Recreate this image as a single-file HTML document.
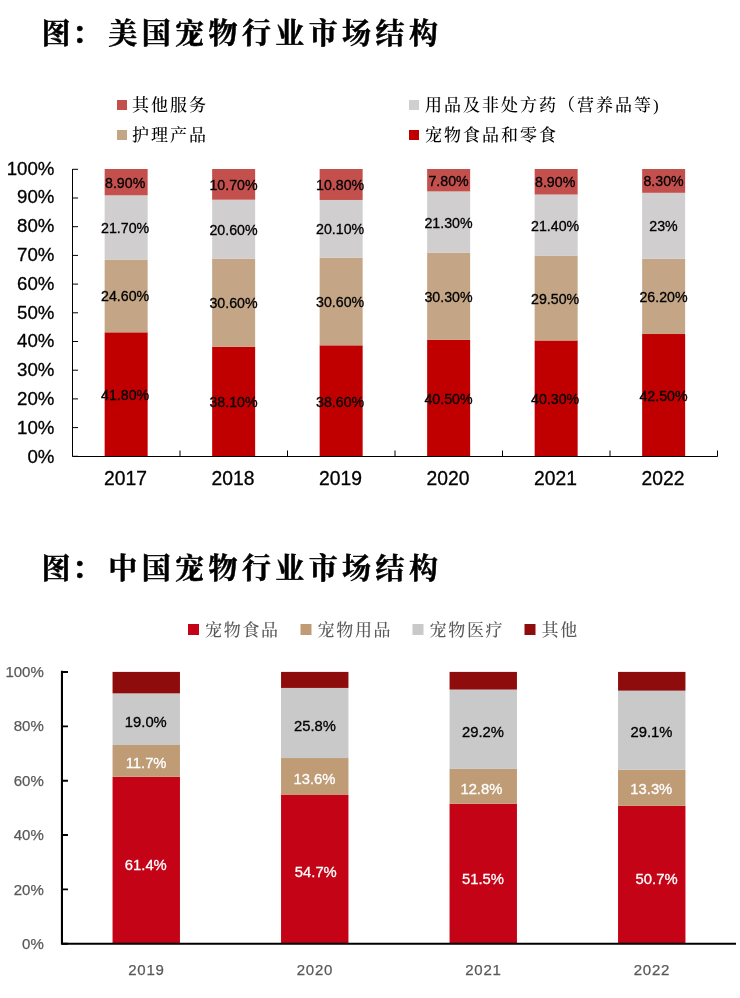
<!DOCTYPE html>
<html lang="zh"><head><meta charset="utf-8"><title>宠物行业市场结构</title>
<style>
html,body{margin:0;padding:0;background:#fff;}
body{width:740px;height:998px;overflow:hidden;position:relative;}
svg{display:block;position:absolute;left:0;top:0;}
.title{font-family:"Liberation Serif","Noto Serif CJK SC",serif;font-weight:700;font-size:29px;letter-spacing:4.4px;fill:#000;stroke:#000;stroke-width:0.5px;}
.lg1{font-family:"Liberation Serif","Noto Serif CJK SC",serif;font-weight:500;font-size:17px;letter-spacing:2px;fill:#000;}
.lg2{font-family:"Liberation Serif","Noto Serif CJK SC",serif;font-weight:500;font-size:17px;letter-spacing:1.7px;fill:#595959;}
.ax1{font-family:"Liberation Sans",sans-serif;font-size:18.67px;fill:#000;stroke:#000;stroke-width:0.3px;}
.xl1{font-family:"Liberation Sans",sans-serif;font-size:19.3px;fill:#000;stroke:#000;stroke-width:0.3px;}
.dl1{font-family:"Liberation Sans",sans-serif;font-size:14.2px;fill:#000;stroke:#000;stroke-width:0.3px;}
.ax2{font-family:"Liberation Sans",sans-serif;font-size:15px;fill:#595959;stroke:#595959;stroke-width:0.25px;}
.dl2{font-family:"Liberation Sans",sans-serif;font-size:14.8px;stroke-width:0.3px;}
</style></head><body>
<svg width="740" height="998" viewBox="0 0 740 998">
<rect x="0" y="0" width="740" height="998" fill="#fff"/>
<text class="title" x="41.5" y="44">图<tspan dx="-3">：</tspan><tspan dx="3">美国宠物行业市场结构</tspan></text>
<text class="title" x="41.5" y="579.2">图<tspan dx="-3">：</tspan><tspan dx="3">中国宠物行业市场结构</tspan></text>
<rect x="117" y="100" width="10" height="10" fill="#C4504E"/>
<text class="lg1" x="132" y="111">其他服务</text>
<rect x="117" y="130" width="10" height="10" fill="#C4A686"/>
<text class="lg1" x="132" y="141">护理产品</text>
<rect x="409" y="100" width="10" height="10" fill="#D0CECE"/>
<text class="lg1" x="425" y="111">用品及非处方药（营养品等)</text>
<rect x="409" y="130" width="10" height="10" fill="#C00000"/>
<text class="lg1" x="425" y="141">宠物食品和零食</text>
<rect x="104.65" y="332.32" width="43" height="123.68" fill="#C00000"/>
<text class="dl1" text-anchor="middle" x="125.15" y="400.26">41.80%</text>
<rect x="104.65" y="259.54" width="43" height="72.79" fill="#C4A686"/>
<text class="dl1" text-anchor="middle" x="125.15" y="301.43">24.60%</text>
<rect x="104.65" y="195.33" width="43" height="64.21" fill="#D0CECE"/>
<text class="dl1" text-anchor="middle" x="125.15" y="232.94">21.70%</text>
<rect x="104.65" y="169" width="43" height="26.33" fill="#C4504E"/>
<text class="dl1" text-anchor="middle" x="125.15" y="187.67">8.90%</text>
<text class="xl1" text-anchor="middle" x="125.45" y="485.1">2017</text>
<rect x="212.15" y="346.65" width="43" height="109.35" fill="#C00000"/>
<text class="dl1" text-anchor="middle" x="233.55" y="407.43">38.10%</text>
<rect x="212.15" y="258.83" width="43" height="87.82" fill="#C4A686"/>
<text class="dl1" text-anchor="middle" x="233.55" y="308.24">30.60%</text>
<rect x="212.15" y="199.71" width="43" height="59.12" fill="#D0CECE"/>
<text class="dl1" text-anchor="middle" x="233.55" y="234.77">20.60%</text>
<rect x="212.15" y="169" width="43" height="30.71" fill="#C4504E"/>
<text class="dl1" text-anchor="middle" x="233.55" y="189.85">10.70%</text>
<text class="xl1" text-anchor="middle" x="232.95" y="485.1">2018</text>
<rect x="319.65" y="345.33" width="43" height="110.67" fill="#C00000"/>
<text class="dl1" text-anchor="middle" x="340.15" y="406.76">38.60%</text>
<rect x="319.65" y="257.59" width="43" height="87.73" fill="#C4A686"/>
<text class="dl1" text-anchor="middle" x="340.15" y="306.96">30.60%</text>
<rect x="319.65" y="199.97" width="43" height="57.63" fill="#D0CECE"/>
<text class="dl1" text-anchor="middle" x="340.15" y="234.28">20.10%</text>
<rect x="319.65" y="169" width="43" height="30.97" fill="#C4504E"/>
<text class="dl1" text-anchor="middle" x="340.15" y="189.98">10.80%</text>
<text class="xl1" text-anchor="middle" x="340.45" y="485.1">2019</text>
<rect x="427.15" y="339.65" width="43" height="116.35" fill="#C00000"/>
<text class="dl1" text-anchor="middle" x="448.55" y="403.92">40.50%</text>
<rect x="427.15" y="252.6" width="43" height="87.05" fill="#C4A686"/>
<text class="dl1" text-anchor="middle" x="448.55" y="301.62">30.30%</text>
<rect x="427.15" y="191.41" width="43" height="61.19" fill="#D0CECE"/>
<text class="dl1" text-anchor="middle" x="448.55" y="227.5">21.30%</text>
<rect x="427.15" y="169" width="43" height="22.41" fill="#C4504E"/>
<text class="dl1" text-anchor="middle" x="448.55" y="185.7">7.80%</text>
<text class="xl1" text-anchor="middle" x="447.95" y="485.1">2020</text>
<rect x="534.65" y="340.45" width="43" height="115.55" fill="#C00000"/>
<text class="dl1" text-anchor="middle" x="555.15" y="404.33">40.30%</text>
<rect x="534.65" y="255.87" width="43" height="84.58" fill="#C4A686"/>
<text class="dl1" text-anchor="middle" x="555.15" y="303.66">29.50%</text>
<rect x="534.65" y="194.52" width="43" height="61.36" fill="#D0CECE"/>
<text class="dl1" text-anchor="middle" x="555.15" y="230.7">21.40%</text>
<rect x="534.65" y="169" width="43" height="25.52" fill="#C4504E"/>
<text class="dl1" text-anchor="middle" x="555.15" y="187.26">8.90%</text>
<text class="xl1" text-anchor="middle" x="555.45" y="485.1">2021</text>
<rect x="642.15" y="334.02" width="43" height="121.98" fill="#C00000"/>
<text class="dl1" text-anchor="middle" x="663.55" y="401.11">42.50%</text>
<rect x="642.15" y="258.83" width="43" height="75.19" fill="#C4A686"/>
<text class="dl1" text-anchor="middle" x="663.55" y="301.93">26.20%</text>
<rect x="642.15" y="192.82" width="43" height="66.01" fill="#D0CECE"/>
<text class="dl1" text-anchor="middle" x="663.55" y="231.33">23%</text>
<rect x="642.15" y="169" width="43" height="23.82" fill="#C4504E"/>
<text class="dl1" text-anchor="middle" x="663.55" y="186.41">8.30%</text>
<text class="xl1" text-anchor="middle" x="662.95" y="485.1">2022</text>
<path d="M72.5 169 V456.5 H717.5" fill="none" stroke="#000" stroke-width="1"/>
<path d="M72.5 456.3h5.5M72.5 427.6h5.5M72.5 398.9h5.5M72.5 370.2h5.5M72.5 341.5h5.5M72.5 312.8h5.5M72.5 284.1h5.5M72.5 255.4h5.5M72.5 226.7h5.5M72.5 198h5.5M72.5 169.3h5.5M180 456.5v-6M287.5 456.5v-6M395 456.5v-6M502.5 456.5v-6M610 456.5v-6M717.5 456.5v-6" fill="none" stroke="#000" stroke-width="1"/>
<text class="ax1" text-anchor="end" x="54.4" y="462.5">0%</text>
<text class="ax1" text-anchor="end" x="54.4" y="433.7">10%</text>
<text class="ax1" text-anchor="end" x="54.4" y="404.9">20%</text>
<text class="ax1" text-anchor="end" x="54.4" y="376.1">30%</text>
<text class="ax1" text-anchor="end" x="54.4" y="347.3">40%</text>
<text class="ax1" text-anchor="end" x="54.4" y="318.5">50%</text>
<text class="ax1" text-anchor="end" x="54.4" y="289.7">60%</text>
<text class="ax1" text-anchor="end" x="54.4" y="260.9">70%</text>
<text class="ax1" text-anchor="end" x="54.4" y="232.1">80%</text>
<text class="ax1" text-anchor="end" x="54.4" y="203.3">90%</text>
<text class="ax1" text-anchor="end" x="54.4" y="174.5">100%</text>
<rect x="188" y="624" width="11" height="11" fill="#C40316"/>
<text class="lg2" x="205" y="636">宠物食品</text>
<rect x="300.5" y="624" width="11" height="11" fill="#BF9C76"/>
<text class="lg2" x="317.5" y="636">宠物用品</text>
<rect x="412.5" y="624" width="11" height="11" fill="#C9C9C9"/>
<text class="lg2" x="429.5" y="636">宠物医疗</text>
<rect x="524.5" y="624" width="11" height="11" fill="#8E0C0C"/>
<text class="lg2" x="541.5" y="636">其他</text>
<rect x="112.55" y="776.78" width="67.4" height="166.82" fill="#C40316"/>
<text class="dl2" text-anchor="middle" fill="#fff" stroke="#fff" x="145.8" y="869.7">61.4%</text>
<rect x="112.55" y="744.99" width="67.4" height="31.79" fill="#BF9C76"/>
<text class="dl2" text-anchor="middle" fill="#fff" stroke="#fff" x="146.1" y="768.1">11.7%</text>
<rect x="112.55" y="693.36" width="67.4" height="51.62" fill="#C9C9C9"/>
<text class="dl2" text-anchor="middle" fill="#000" stroke="#000" x="145.8" y="727">19.0%</text>
<rect x="112.55" y="671.9" width="67.4" height="21.46" fill="#8E0C0C"/>
<text class="ax2" text-anchor="middle" style="letter-spacing:0.8px" x="146.45" y="974.6">2019</text>
<rect x="281.05" y="794.98" width="67.4" height="148.62" fill="#C40316"/>
<text class="dl2" text-anchor="middle" fill="#fff" stroke="#fff" x="315.8" y="876.9">54.7%</text>
<rect x="281.05" y="758.03" width="67.4" height="36.95" fill="#BF9C76"/>
<text class="dl2" text-anchor="middle" fill="#fff" stroke="#fff" x="314.5" y="783.7">13.6%</text>
<rect x="281.05" y="687.93" width="67.4" height="70.1" fill="#C9C9C9"/>
<text class="dl2" text-anchor="middle" fill="#000" stroke="#000" x="315" y="730.6">25.8%</text>
<rect x="281.05" y="671.9" width="67.4" height="16.03" fill="#8E0C0C"/>
<text class="ax2" text-anchor="middle" style="letter-spacing:0.8px" x="314.95" y="974.6">2020</text>
<rect x="449.55" y="803.67" width="67.4" height="139.93" fill="#C40316"/>
<text class="dl2" text-anchor="middle" fill="#fff" stroke="#fff" x="483" y="883.7">51.5%</text>
<rect x="449.55" y="768.9" width="67.4" height="34.78" fill="#BF9C76"/>
<text class="dl2" text-anchor="middle" fill="#fff" stroke="#fff" x="481.4" y="793.5">12.8%</text>
<rect x="449.55" y="689.56" width="67.4" height="79.34" fill="#C9C9C9"/>
<text class="dl2" text-anchor="middle" fill="#000" stroke="#000" x="483" y="736.6">29.2%</text>
<rect x="449.55" y="671.9" width="67.4" height="17.66" fill="#8E0C0C"/>
<text class="ax2" text-anchor="middle" style="letter-spacing:0.8px" x="483.45" y="974.6">2021</text>
<rect x="618.05" y="805.85" width="67.4" height="137.75" fill="#C40316"/>
<text class="dl2" text-anchor="middle" fill="#fff" stroke="#fff" x="656.6" y="884.3">50.7%</text>
<rect x="618.05" y="769.71" width="67.4" height="36.14" fill="#BF9C76"/>
<text class="dl2" text-anchor="middle" fill="#fff" stroke="#fff" x="651.3" y="794.1">13.3%</text>
<rect x="618.05" y="690.65" width="67.4" height="79.06" fill="#C9C9C9"/>
<text class="dl2" text-anchor="middle" fill="#000" stroke="#000" x="651.5" y="737.4">29.1%</text>
<rect x="618.05" y="671.9" width="67.4" height="18.75" fill="#8E0C0C"/>
<text class="ax2" text-anchor="middle" style="letter-spacing:0.8px" x="651.95" y="974.6">2022</text>
<path d="M61.95 670.8 V943.8 H736" fill="none" stroke="#000" stroke-width="2.1"/>
<path d="M61.95 943.7h6M61.95 889.36h6M61.95 835.02h6M61.95 780.68h6M61.95 726.34h6M61.95 672h6" fill="none" stroke="#000" stroke-width="1.9"/>
<text class="ax2" text-anchor="end" x="43.8" y="949.4">0%</text>
<text class="ax2" text-anchor="end" x="43.8" y="894.9">20%</text>
<text class="ax2" text-anchor="end" x="43.8" y="840.4">40%</text>
<text class="ax2" text-anchor="end" x="43.8" y="785.9">60%</text>
<text class="ax2" text-anchor="end" x="43.8" y="731.4">80%</text>
<text class="ax2" text-anchor="end" x="43.8" y="676.9">100%</text>
</svg></body></html>
